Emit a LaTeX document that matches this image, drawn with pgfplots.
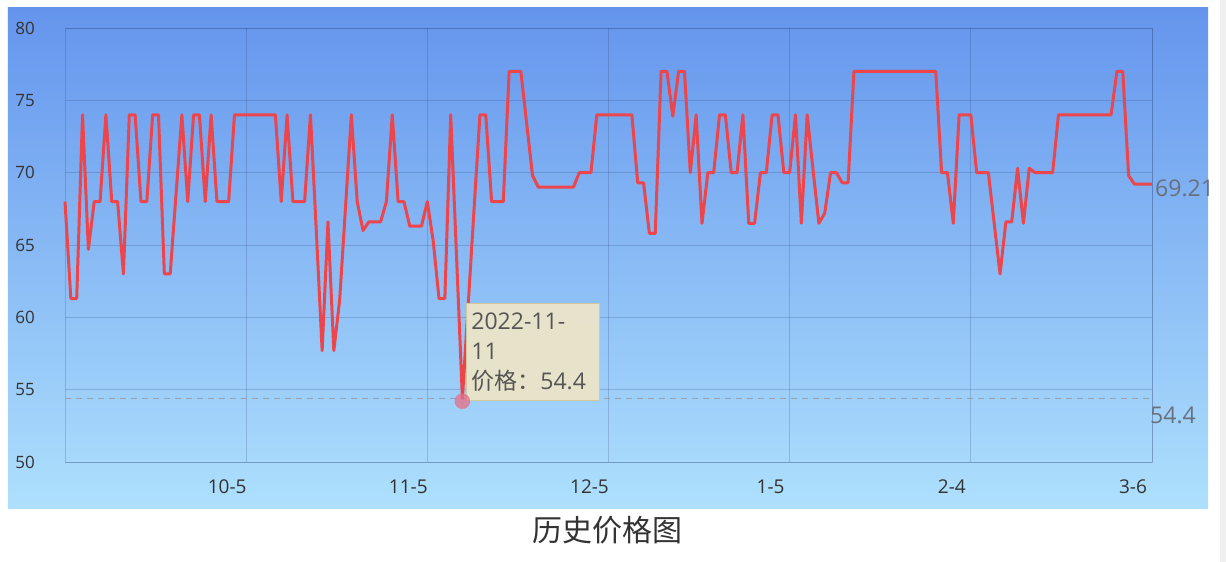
\documentclass[border=0pt]{standalone}
\usepackage{pgfplots}
\usepackage{pgfplotstable}
\pgfplotsset{compat=1.18}
\usepackage{fontspec}
\setmainfont{Open Sans}
\newfontfamily\cjk{Noto Sans CJK SC}

\definecolor{bgtop}{RGB}{100,149,237}
\definecolor{bgbot}{RGB}{174,224,253}
\definecolor{linered}{RGB}{236,70,76}
\definecolor{gridc}{RGB}{30,50,100}
\definecolor{txt}{RGB}{51,51,51}
\definecolor{sidetxt}{RGB}{105,112,125}
\definecolor{tipfill}{RGB}{234,228,202}
\definecolor{tipdraw}{RGB}{210,200,160}
\definecolor{tiptxt}{RGB}{85,85,85}
\definecolor{markc}{RGB}{232,110,135}
\definecolor{dashc}{RGB}{150,160,175}

\pgfplotstableread{
idx price
0 68
1 61.3
2 61.3
3 74
4 64.7
5 68
6 68
7 74
8 68
9 68
10 63
11 74
12 74
13 68
14 68
15 74
16 74
17 63
18 63
19 68.5
20 74
21 68
22 74
23 74
24 68
25 74
26 68
27 68
28 68
29 74
30 74
31 74
32 74
33 74
34 74
35 74
36 74
37 68
38 74
39 68
40 68
41 68
42 74
43 66
44 57.7
45 66.6
46 57.7
47 61.2
48 67.6
49 74
50 68
51 66
52 66.6
53 66.6
54 66.6
55 68
56 74
57 68
58 68
59 66.3
60 66.3
61 66.3
62 68
63 65.3
64 61.3
65 61.3
66 74
67 64.2
68 54.4
69 60.9
70 67.5
71 74
72 74
73 68
74 68
75 68
76 77
77 77
78 77
79 73.4
80 69.8
81 69
82 69
83 69
84 69
85 69
86 69
87 69
88 70
89 70
90 70
91 74
92 74
93 74
94 74
95 74
96 74
97 74
98 69.3
99 69.3
100 65.8
101 65.8
102 77
103 77
104 73.9
105 77
106 77
107 70
108 74
109 66.5
110 70
111 70
112 74
113 74
114 70
115 70
116 74
117 66.5
118 66.5
119 70
120 70
121 74
122 74
123 70
124 70
125 74
126 66.5
127 74
128 70.2
129 66.5
130 67.2
131 70
132 70
133 69.3
134 69.3
135 77
136 77
137 77
138 77
139 77
140 77
141 77
142 77
143 77
144 77
145 77
146 77
147 77
148 77
149 77
150 70
151 70
152 66.5
153 74
154 74
155 74
156 70
157 70
158 70
159 66.5
160 63
161 66.6
162 66.6
163 70.3
164 66.5
165 70.3
166 70
167 70
168 70
169 70
170 74
171 74
172 74
173 74
174 74
175 74
176 74
177 74
178 74
179 74
180 77
181 77
182 69.8
183 69.21
184 69.21
185 69.21
186 69.21
}\pricedata

\begin{document}
\begin{tikzpicture}[x=1pt,y=1pt]
\useasboundingbox (-65,-100) rectangle (1161,462);
\fill[white] (-65,-100) rectangle (1161,462);
\shade[top color=bgtop,bottom color=bgbot] (-57,-46) rectangle (1143,454);
\fill[black!6] (1155,-100) rectangle (1161,462);
\begin{axis}[
  at={(0,0)}, anchor=south west, scale only axis,
  width=1087pt, height=434pt,
  xmin=0, xmax=186, ymin=50, ymax=80,
  xtick={31,62,93,124,155,186},
  xticklabels={10-5,11-5,12-5,1-5,2-4,3-6},
  ytick={50,55,60,65,70,75,80},
  major tick length=0pt,
  grid=major,
  grid style={draw=gridc, draw opacity=0.2, line width=0.9pt},
  axis line style={draw=gridc, draw opacity=0.2, line width=0.9pt},
  tick label style={text=txt},
  xticklabel style={font=\fontsize{19}{19}\selectfont, anchor=center, inner sep=0pt, xshift=-19pt, yshift=-25pt},
  yticklabel style={font=\fontsize{17}{17}\selectfont, anchor=east, inner sep=0pt, xshift=-30pt},
  /pgf/number format/assume math mode=true,
  clip=false,
]
\addplot[draw=dashc, dash pattern=on 6pt off 5pt, line width=1pt] coordinates {(0,54.4) (186,54.4)};
\addplot[only marks, mark=*, mark size=7.5pt, mark options={fill=markc, draw=markc, fill opacity=0.75, draw opacity=0.75}] coordinates {(68,54.2)};
\addplot[draw=linered, line width=3pt, line join=round] table[x=idx,y=price]{\pricedata};
\node[anchor=west, text=sidetxt, font=\fontsize{23}{23}\selectfont, inner sep=0pt, xshift=3pt, yshift=-4pt] at (axis cs:186,69.21) {69.21};
\node[anchor=west, text=sidetxt, font=\fontsize{23}{23}\selectfont, inner sep=0pt, xshift=-2pt, yshift=-17pt] at (axis cs:186,54.4) {54.4};
\node[anchor=north west, fill=tipfill, fill opacity=0.97, text opacity=1, draw=tipdraw, line width=0.8pt, minimum width=133pt, minimum height=97pt, text width=123pt, inner xsep=5pt, inner ysep=4pt, align=left, text=tiptxt, font=\fontsize{23}{30}\selectfont] at (axis cs:68.62,60.99) {2022-11-\\11\\{\cjk 价格：}54.4};
\end{axis}
\node[font=\cjk\fontsize{30}{30}\selectfont, text=txt] at (542,-68) {历史价格图};
\end{tikzpicture}
\end{document}
